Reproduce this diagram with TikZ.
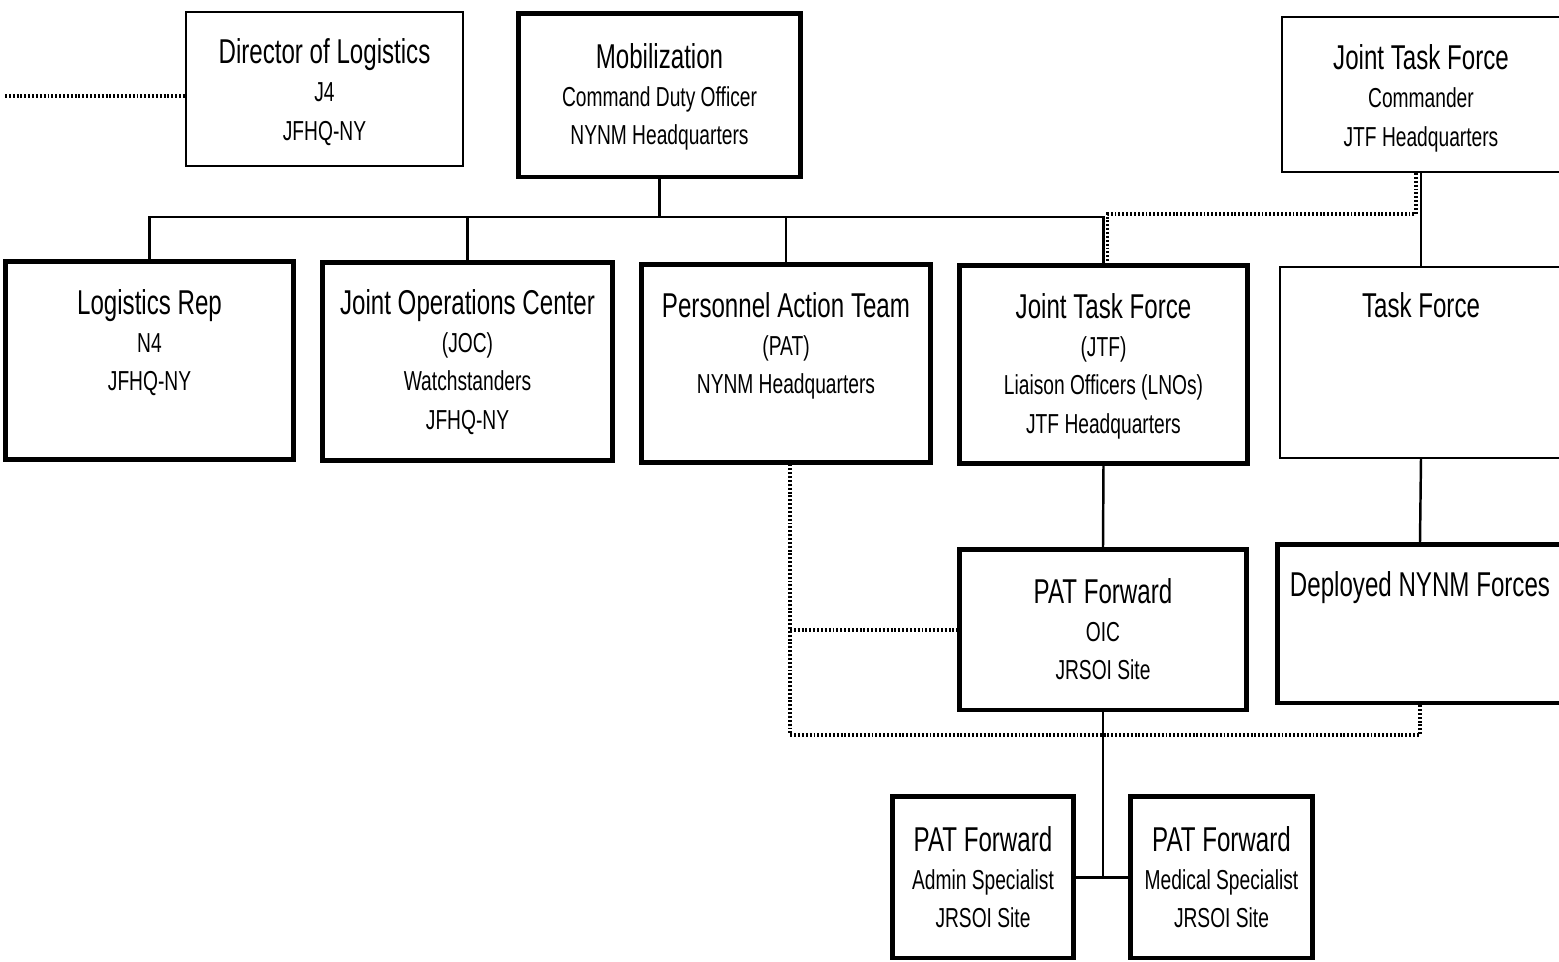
\documentclass[tikz,border=0pt]{standalone}
\usepackage{fontspec}
\setmainfont{Liberation Sans}[FakeStretch=0.7]
\usepackage{tikz}

\newcommand{\boxtitle}[1]{{\fontsize{9.8}{10.9}\selectfont\strut #1}}

\tikzset{
  plainbox/.style={draw, rectangle, line width=0.6pt, inner sep=0pt},
  heavybox/.style={draw, rectangle, line width=1.4pt, inner sep=0pt},
  boxtext/.style={anchor=north, align=center, inner sep=0pt, font=\fontsize{7.8}{10.9}\selectfont},
  link/.style={line width=0.7pt},
  dotlink/.style={line width=0.95pt, dash pattern=on 0.55pt off 0.55pt},
}

\begin{document}
\begin{tikzpicture}[x=0.01cm, y=-0.01cm]
  \useasboundingbox (0,0) rectangle (1559,962);
  % Top row
  \node[plainbox, minimum width=2.77cm, minimum height=1.54cm] (dir) at (324.5,89) {}; %
  \node[boxtext] (dirtext) at ([yshift=-0.25cm]dir.north) {\boxtitle{Director of Logistics}\\ J4\\ JFHQ-NY}; %
  \node[heavybox, minimum width=2.81cm, minimum height=1.63cm] (mob) at (659.5,95.5) {}; %
  \node[boxtext] (mobtext) at ([yshift=-0.29cm]mob.north) {\boxtitle{Mobilization}\\ Command Duty Officer\\ NYNM Headquarters}; %
  \node[plainbox, minimum width=2.78cm, minimum height=1.55cm] (jtfc) at (1421,94.5) {}; %
  \node[boxtext] (jtfctext) at ([yshift=-0.26cm]jtfc.north) {\boxtitle{Joint Task Force}\\ Commander\\ JTF Headquarters}; %
  % Second row
  \node[heavybox, minimum width=2.87cm, minimum height=1.97cm] (lrep) at (149.5,360.5) {}; %
  \node[boxtext] (lreptext) at ([yshift=-0.27cm]lrep.north) {\boxtitle{Logistics Rep}\\ N4\\ JFHQ-NY}; %
  \node[heavybox, minimum width=2.89cm, minimum height=1.97cm] (joc) at (467.5,361.5) {}; %
  \node[boxtext] (joctext) at ([yshift=-0.26cm]joc.north) {\boxtitle{Joint Operations Center}\\ (JOC)\\ Watchstanders\\ JFHQ-NY}; %
  \node[heavybox, minimum width=2.88cm, minimum height=1.97cm] (pat) at (786,363.5) {}; %
  \node[boxtext] (pattext) at ([yshift=-0.27cm]pat.north) {\boxtitle{Personnel Action Team}\\ (PAT)\\ NYNM Headquarters}; %
  \node[heavybox, minimum width=2.87cm, minimum height=1.97cm] (jtflno) at (1103.5,364.5) {}; %
  \node[boxtext] (jtflnotext) at ([yshift=-0.27cm]jtflno.north) {\boxtitle{Joint Task Force}\\ (JTF)\\ Liaison Officers (LNOs)\\ JTF Headquarters}; %
  \node[plainbox, minimum width=2.82cm, minimum height=1.91cm] (tf) at (1421,362.5) {}; %
  \node[boxtext] (tftext) at ([yshift=-0.24cm]tf.north) {\boxtitle{Task Force}}; %
  % Third row
  \node[heavybox, minimum width=2.86cm, minimum height=1.60cm] (patfwd) at (1103,630) {}; %
  \node[boxtext] (patfwdtext) at ([yshift=-0.28cm]patfwd.north) {\boxtitle{PAT Forward}\\ OIC\\ JRSOI Site}; %
  \node[heavybox, minimum width=2.84cm, minimum height=1.58cm] (dep) at (1420,624) {}; %
  \node[boxtext] (deptext) at ([yshift=-0.26cm]dep.north) {\boxtitle{Deployed NYNM Forces}}; %
  % Bottom row
  \node[heavybox, minimum width=1.80cm, minimum height=1.61cm] (admin) at (983,877.5) {}; %
  \node[boxtext] (admintext) at ([yshift=-0.29cm]admin.north) {\boxtitle{PAT Forward}\\ Admin Specialist\\ JRSOI Site}; %
  \node[heavybox, minimum width=1.81cm, minimum height=1.61cm] (medic) at (1221.5,877.5) {}; %
  \node[boxtext] (medictext) at ([yshift=-0.29cm]medic.north) {\boxtitle{PAT Forward}\\ Medical Specialist\\ JRSOI Site}; %

  % Solid links
  \coordinate (bus) at (0,217); %
  \draw[link] (lrep.north) |- (bus -| jtflno.north) -- (jtflno.north); %
  \draw[link] (mob.south) -- (mob.south |- bus); %
  \draw[link] (joc.north) -- (joc.north |- bus); %
  \draw[link] (pat.north) -- (pat.north |- bus); %
  \draw[link] (jtfc.south) -- (tf.north); %
  \draw[link] (tf.south) -- (dep.north); %
  \draw[link] (jtflno.south) -- (patfwd.north); %
  \draw[link] (patfwd.south) -- (patfwd.south |- admin.east); %
  \draw[link] (admin.east) -- (medic.west); %

  % Dotted links
  \coordinate (offpage) at (5,96); %
  \draw[dotlink] (offpage) -- (offpage -| dir.west); %
  \coordinate (jtfctap) at ([xshift=-0.05cm]jtfc.south); %
  \coordinate (lnotap) at ([xshift=0.04cm]jtflno.north); %
  \coordinate (dotbus) at (0,214); %
  \draw[dotlink] (jtfctap) |- (dotbus -| lnotap) -- (lnotap); %
  \coordinate (pattap) at ([xshift=0.04cm]pat.south); %
  \coordinate (dotlow) at (0,735); %
  \draw[dotlink] (pattap) |- (dotlow -| dep.south) -- (dep.south); %
  \draw[dotlink] (pattap |- patfwd.west) -- (patfwd.west); %
\end{tikzpicture}
\end{document}
